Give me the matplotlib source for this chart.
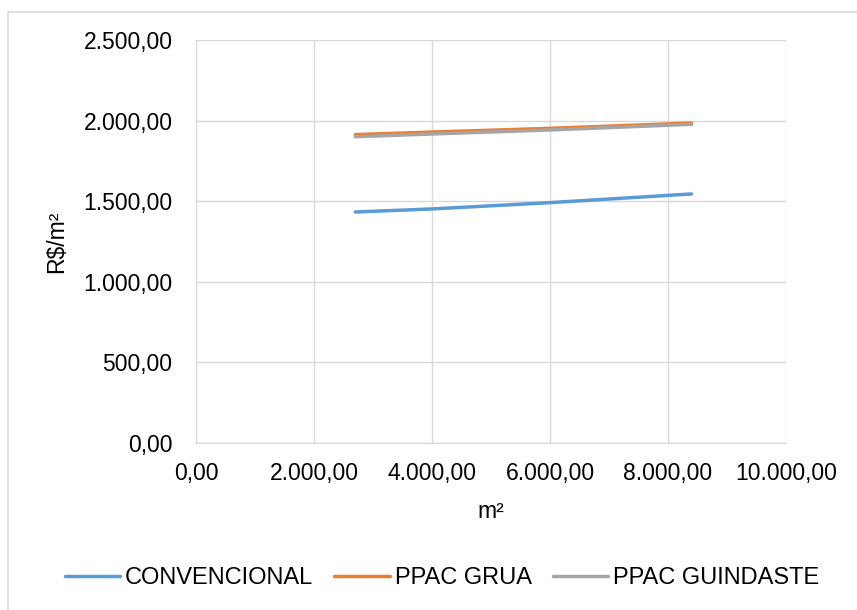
import matplotlib

matplotlib.use("Agg")
import matplotlib.pyplot as plt
from matplotlib.patches import Rectangle
from matplotlib.ticker import FuncFormatter, MultipleLocator


# valores (área em m² x custo em R$/m²)
areas = [2700, 4000, 6000, 8400]
convencional = [1433, 1452, 1491, 1545]
ppac_grua = [1913, 1929, 1952, 1985]
ppac_guindaste = [1900, 1917, 1942, 1977]

series = [
    ("CONVENCIONAL", convencional, "#5B9BD5"),
    ("PPAC GRUA", ppac_grua, "#ED7D31"),
    ("PPAC GUINDASTE", ppac_guindaste, "#A5A5A5"),
]

W, H = 857, 610


def formato_br(valor, _pos=None):
    texto = f"{valor:,.2f}"
    return texto.replace(",", "X").replace(".", ",").replace("X", ".")


def main():
    plt.rcParams["font.family"] = ["Liberation Sans", "DejaVu Sans"]
    plt.rcParams["font.size"] = 16.5

    fig = plt.figure(figsize=(W / 100, H / 100), dpi=100)
    ax = fig.add_axes([196 / W, 1 - 443 / H, (786 - 196) / W, (443 - 40) / H])

    # borda do gráfico estilo Excel
    fig.patches.append(Rectangle((8 / W, -0.1), 1.2, 1 - 12 / H + 0.1,
                                 transform=fig.transFigure, fill=False,
                                 edgecolor="#d9d9d9", linewidth=1.2))

    for nome, valores, cor in series:
        ax.plot(areas, valores, color=cor, linewidth=2.5, label=nome,
                solid_capstyle="round")

    ax.set_xlim(0, 10000)
    ax.set_ylim(0, 2500)
    ax.xaxis.set_major_locator(MultipleLocator(2000))
    ax.yaxis.set_major_locator(MultipleLocator(500))
    ax.xaxis.set_major_formatter(FuncFormatter(formato_br))
    ax.yaxis.set_major_formatter(FuncFormatter(formato_br))

    ax.grid(True, color="#d9d9d9", linewidth=1.0)
    ax.set_axisbelow(True)
    for lado in ["top", "right", "left"]:
        ax.spines[lado].set_visible(False)
    ax.spines["bottom"].set_color("#d9d9d9")
    ax.tick_params(axis="both", length=0, colors="black")
    ax.tick_params(axis="x", pad=14)
    ax.tick_params(axis="y", pad=17)

    ax.set_xlabel("m²")
    ax.xaxis.set_label_coords(0.5, -(500 - 443) / (443 - 40))
    ax.set_ylabel("R$/m²")
    ax.yaxis.set_label_coords((68 - 196) / (786 - 196), 0.5)

    fig.legend(loc="center", bbox_to_anchor=(442 / W, 1 - 578 / H), ncol=3,
               frameon=False, handlelength=2.35, handletextpad=0.2,
               columnspacing=0.9, fontsize=17)

    fig.savefig("out.png", dpi=100)
    plt.close(fig)


if __name__ == "__main__":
    main()
